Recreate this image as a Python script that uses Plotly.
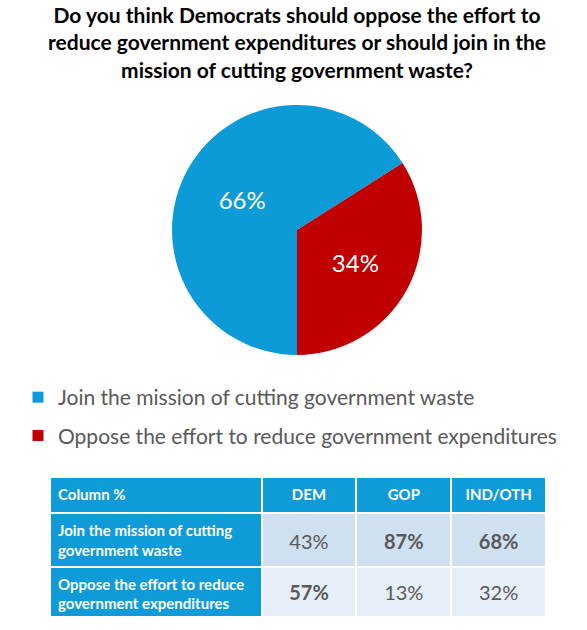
import plotly.graph_objects as go

title_lines = ["Do you think Democrats should oppose the effort to",
               "reduce government expenditures or should join in the",
               "mission of cutting government waste?"]
labels = ["Join the mission of cutting government waste",
          "Oppose the effort to reduce government expenditures"]
values = [66, 34]
colors = ["#0c9bd7", "#c00000"]

table_header = ["Column %", "DEM", "GOP", "IND/OTH"]
row_labels = ["Join the mission of cutting<br>government waste",
              "Oppose the effort to reduce<br>government expenditures"]
dem = ["43%", "57%"]
gop = ["87%", "13%"]
ind = ["68%", "32%"]
bold_cells = {("dem", 1), ("gop", 0), ("ind", 0)}

FONT = "Lato"
W, H = 587, 630


def px(x):
    return x / W


def py(y):
    return 1 - y / H


def fmt(col, vals):
    return [f"<b>{v}</b>" if (col, i) in bold_cells else f"<span>{v}</span>" for i, v in enumerate(vals)]


fig = go.Figure()
cx, cy, r = 297, 230, 125
fig.add_trace(go.Pie(
    labels=labels, values=values, sort=False, direction="clockwise", rotation=180,
    marker=dict(colors=colors, line=dict(width=0)),
    textinfo="percent", textposition="inside", insidetextorientation="horizontal",
    textfont=dict(family=FONT, size=24, color="white"),
    domain=dict(x=[px(cx - r), px(cx + r)], y=[py(cy + r), py(cy - r)]),
    hoverinfo="label+percent", showlegend=False,
))

# legend entries (one per slice, separate groups for spacing)
for lab, col in zip(labels, colors):
    fig.add_trace(go.Scatter(x=[None], y=[None], mode="markers", name=lab, legendgroup=lab,
                             marker=dict(symbol="square", size=11, color=col), hoverinfo="skip"))

row_fill = ["#cfe0f0", "#e6eff8"]
hdr_blue = "#0f9bd8"
HDR_H, ROW_H, SHIFT = 36, 51, 8
tbl_x = [px(50), px(546)]
colw = [212, 95, 95, 95]
blank = ["", ""]

# table body: fills, header and row labels
fig.add_trace(go.Table(
    domain=dict(x=tbl_x, y=[py(616), py(477)]),
    columnwidth=colw,
    header=dict(values=[f"<b>{h}</b>" for h in table_header],
                fill_color=hdr_blue, line=dict(color="white", width=2),
                align=["left", "center", "center", "center"],
                font=dict(family=FONT, size=15, color="white"), height=HDR_H),
    cells=dict(values=[[f"<b>{r}</b>" for r in row_labels], blank, blank, blank],
               fill_color=[[hdr_blue, hdr_blue], row_fill, row_fill, row_fill],
               line=dict(color="white", width=2),
               align=["left", "center", "center", "center"],
               font=dict(family=FONT, size=15, color="white"),
               height=ROW_H),
))
# values layer (vertically centred in the cells)
fig.add_trace(go.Table(
    domain=dict(x=tbl_x, y=[py(616 + SHIFT + 4), py(477)]),
    columnwidth=colw,
    header=dict(values=["", "", "", ""], fill_color="rgba(0,0,0,0)",
                line=dict(color="rgba(0,0,0,0)", width=0), height=HDR_H + SHIFT),
    cells=dict(values=[blank, fmt("dem", dem), fmt("gop", gop), fmt("ind", ind)],
               fill_color="rgba(0,0,0,0)", line=dict(color="rgba(0,0,0,0)", width=0),
               align="center", font=dict(family=FONT, size=20, color="#595959"),
               height=ROW_H),
))

fig.add_annotation(text="<b>" + "<br>".join(title_lines) + "</b>", xref="paper", yref="paper",
                   x=px(297), xanchor="center", y=1, yanchor="top", showarrow=False,
                   font=dict(family=FONT, size=21, color="black"))

fig.update_layout(
    width=W, height=H,
    margin=dict(l=0, r=0, t=0, b=0),
    paper_bgcolor="white", plot_bgcolor="white",
    xaxis=dict(visible=False), yaxis=dict(visible=False),
    showlegend=True,
    legend=dict(x=px(18), xanchor="left", y=py(377), yanchor="top",
                traceorder="grouped", tracegroupgap=8,
                font=dict(family=FONT, size=21, color="#595959"), bgcolor="rgba(0,0,0,0)"),
)
fig.write_html("out.html", config={"displayModeBar": False},
               post_script="document.body.style.margin='0px';")
